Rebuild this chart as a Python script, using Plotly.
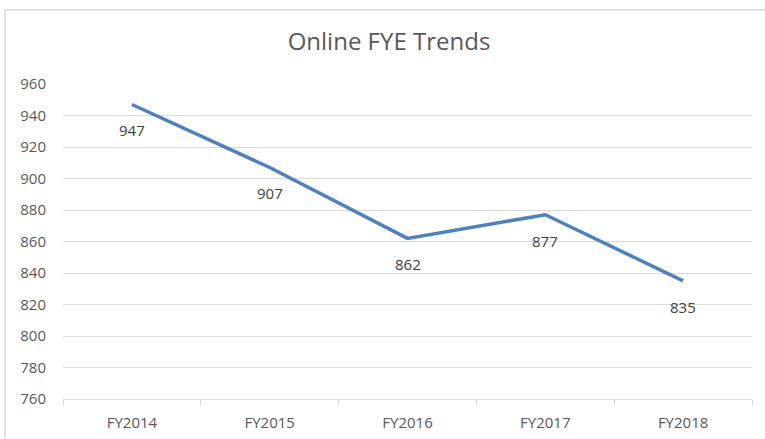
import plotly.graph_objects as go

years = ["FY2014", "FY2015", "FY2016", "FY2017", "FY2018"]
fye = [947, 907, 862, 877, 835]
y_ticks = [760, 780, 800, 820, 840, 860, 880, 900, 920, 940, 960]

font = "Open Sans, Liberation Sans, sans-serif"
grey = "#595959"
grid = "#d9d9d9"

fig = go.Figure()
fig.add_trace(go.Scatter(x=years, y=fye, mode="lines",
                         line=dict(color="#4F81BD", width=3.5),
                         hoverinfo="x+y"))

# data labels sit below each point, like Excel's "Below" position
for yr, v in zip(years, fye):
    fig.add_annotation(x=yr, y=v, text=str(v), showarrow=False,
                       yshift=-26, font=dict(size=15, color="#404040", family=font))

fig.update_layout(
    width=765, height=439,
    margin=dict(l=63, r=13, t=84, b=40),
    paper_bgcolor="white", plot_bgcolor="white",
    showlegend=False,
    title=dict(text="Online FYE Trends", x=(389 - 63) / 689, xref="paper",
               xanchor="center", y=1 - 42 / 439, yanchor="middle",
               font=dict(size=24, color=grey, family=font)),
    font=dict(family=font, color=grey, size=15),
    shapes=[dict(type="rect", xref="paper", yref="paper",
                 x0=-0.084, x1=1.05, y0=-0.2, y1=1.236,
                 line=dict(color=grid, width=1.5))],
)
fig.update_xaxes(range=[-0.5, 4.5], showgrid=False, showline=True, linecolor=grid,
                 linewidth=1, ticks="outside", tickson="boundaries", ticklen=5,
                 tickcolor=grid, ticklabelstandoff=10, automargin=False,
                 tickfont=dict(size=15, color=grey), fixedrange=True)
fig.update_yaxes(range=[760, 960], tickvals=y_ticks, showgrid=True, gridcolor=grid,
                 gridwidth=1, zeroline=False, showline=False,
                 ticklabelstandoff=16, automargin=False,
                 tickfont=dict(size=15, color=grey), fixedrange=True)

fig.write_html("out.html", config={"displayModeBar": False},
               post_script="document.body.style.margin='0';")
